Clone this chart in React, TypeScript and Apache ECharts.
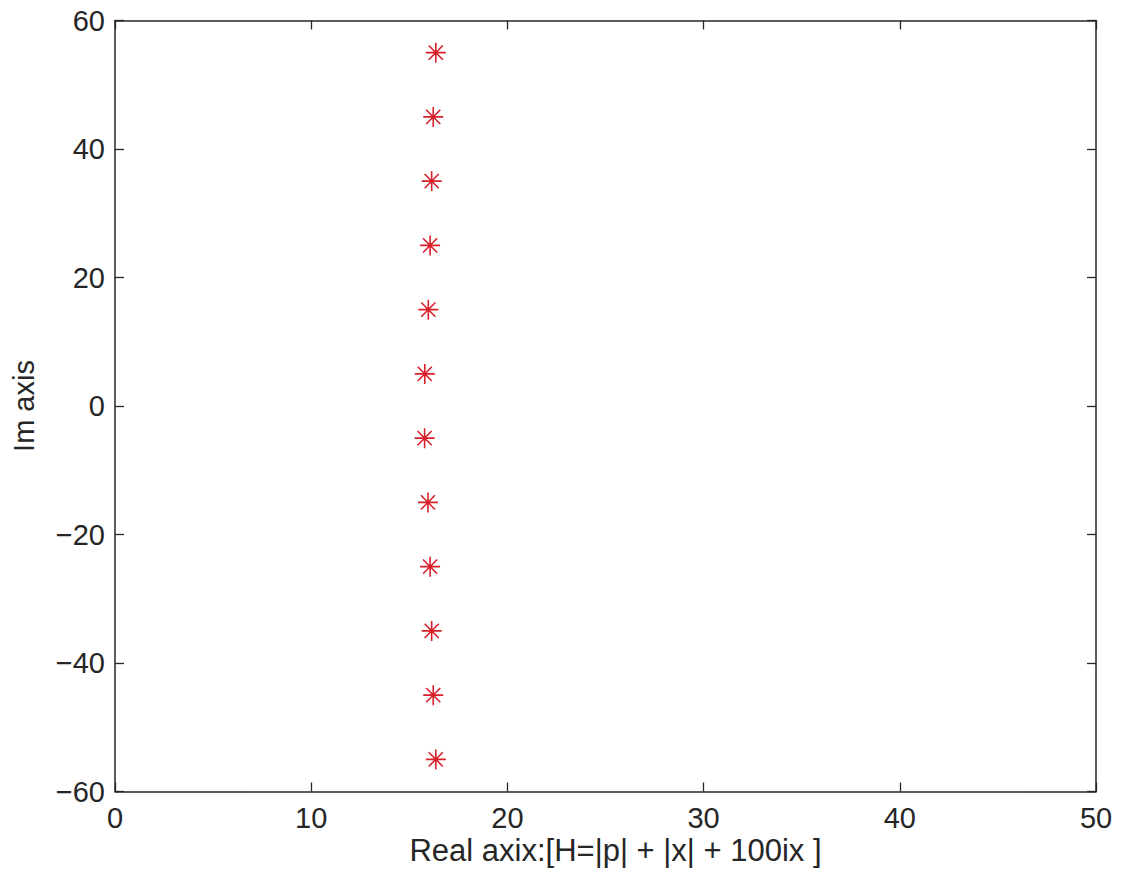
import React, { useEffect, useRef } from "react";
import * as echarts from "echarts";

const realValues = [16.35, 16.22, 16.14, 16.06, 15.97, 15.79, 15.78, 15.95, 16.06, 16.14, 16.22, 16.35];
const imagValues = [55, 45, 35, 25, 15, 5, -5, -15, -25, -35, -45, -55];
const xTicks = { min: 0, max: 50, interval: 10 };
const yTicks = { min: -60, max: 60, interval: 20 };
const xTitle = "Real axix:[H=|p| + |x| + 100ix ]";
const yTitle = "Im axis";

const FONT = "'Liberation Sans', Arial, Helvetica, sans-serif";
const TEXT = "#262626";
const LINE = "#262626";
const RED = "#d8202a";

const starPath =
  "path://M0,-10L0,10M-10,0L10,0M-7.07,-7.07L7.07,7.07M-7.07,7.07L7.07,-7.07";

export default function App() {
  const ref = useRef<HTMLDivElement>(null);
  useEffect(() => {
    if (!ref.current) return;
    const chart = echarts.init(ref.current, undefined, { renderer: "svg" });
    const grid = { left: 115, top: 20.5, right: 27, bottom: 89.5 };
    const gridW = 1123 - grid.left - grid.right;
    const gridH = 881 - grid.top - grid.bottom;
    const baseAxis = {
      axisLine: { show: true, onZero: false, lineStyle: { color: LINE, width: 1.5 } },
      axisTick: { show: true, inside: true, length: 9, lineStyle: { color: LINE, width: 1.3 } },
      splitLine: { show: false },
    };
    const fmt = (v: number) => (v < 0 ? "\u2212" + Math.abs(v) : String(v));
    chart.setOption({
      animation: false,
      backgroundColor: "#ffffff",
      grid: { ...grid, containLabel: false, outerBoundsMode: "none" },
      xAxis: [
        {
          type: "value",
          position: "bottom",
          ...xTicks,
          ...baseAxis,
          axisLabel: { show: true, color: TEXT, fontFamily: FONT, fontSize: 29, margin: 12, formatter: fmt },
        },
        {
          type: "value",
          position: "top",
          ...xTicks,
          ...baseAxis,
          axisLabel: { show: false },
        },
      ],
      yAxis: [
        {
          type: "value",
          position: "left",
          ...yTicks,
          ...baseAxis,
          axisLabel: { show: true, color: TEXT, fontFamily: FONT, fontSize: 29, margin: 10, formatter: fmt },
        },
        {
          type: "value",
          position: "right",
          ...yTicks,
          ...baseAxis,
          axisLabel: { show: false },
        },
      ],
      series: [
        {
          type: "scatter",
          xAxisIndex: 0,
          yAxisIndex: 0,
          data: realValues.map((x, i) => [x, imagValues[i]]),
          symbol: starPath,
          symbolSize: 20,
          symbolKeepAspect: true,
          itemStyle: { color: "none", borderColor: RED, borderWidth: 1.6, opacity: 1 },
          silent: true,
        },
      ],
      graphic: [
        {
          type: "text",
          x: grid.left + gridW / 2 + 10,
          y: 850,
          style: {
            text: xTitle,
            fill: TEXT,
            font: `31px ${FONT}`,
            textAlign: "center",
            textVerticalAlign: "middle",
          },
        },
        {
          type: "text",
          x: 24,
          y: grid.top + gridH / 2,
          rotation: Math.PI / 2,
          style: {
            text: yTitle,
            fill: TEXT,
            font: `29px ${FONT}`,
            textAlign: "center",
            textVerticalAlign: "middle",
          },
        },
      ],
    });
    return () => chart.dispose();
  }, []);
  return (
    <div
      ref={ref}
      style={{ position: "fixed", left: 0, top: 0, width: 1123, height: 881, background: "#fff" }}
    />
  );
}
